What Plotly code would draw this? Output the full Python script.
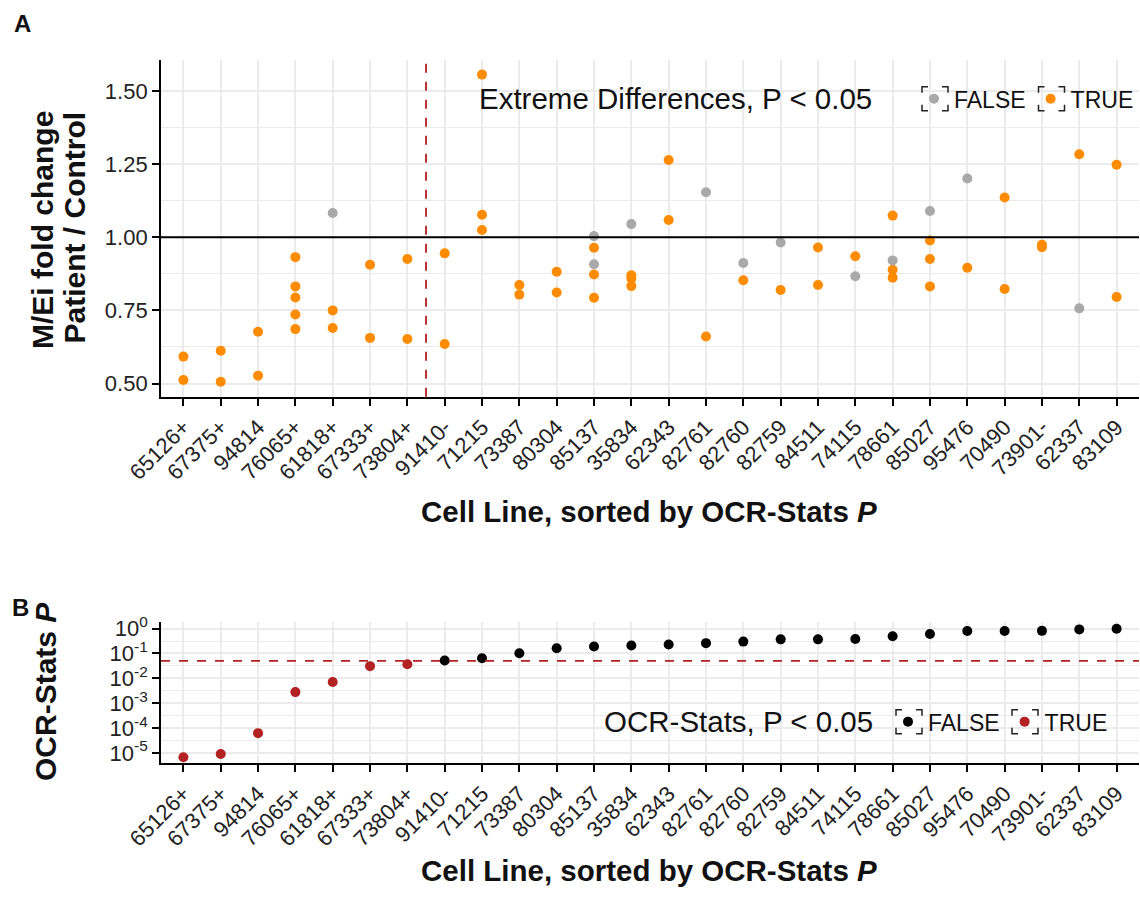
import plotly.graph_objects as go

# ---------------- data ----------------
cell_lines = ["65126+", "67375+", "94814", "76065+", "61818+", "67333+", "73804+",
              "91410-", "71215", "73387", "80304", "85137", "35834", "62343",
              "82761", "82760", "82759", "84511", "74115", "78661", "85027",
              "95476", "70490", "73901-", "62337", "83109"]

# Panel A: M/Ei fold change (patient / control), one entry per point
fc_cell = ["65126+", "65126+",
           "67375+", "67375+",
           "94814", "94814",
           "76065+", "76065+", "76065+", "76065+", "76065+",
           "61818+", "61818+", "61818+",
           "67333+", "67333+",
           "73804+", "73804+",
           "91410-", "91410-",
           "71215", "71215", "71215",
           "73387", "73387",
           "80304", "80304",
           "85137", "85137", "85137", "85137", "85137",
           "35834", "35834", "35834", "35834",
           "62343", "62343",
           "82761", "82761",
           "82760", "82760",
           "82759", "82759",
           "84511", "84511",
           "74115", "74115",
           "78661", "78661", "78661", "78661",
           "85027", "85027", "85027", "85027",
           "95476", "95476",
           "70490", "70490",
           "73901-", "73901-",
           "62337", "62337",
           "83109", "83109"]
fc_value = [0.592, 0.512,
            0.612, 0.506,
            0.677, 0.527,
            0.932, 0.832, 0.794, 0.736, 0.686,
            1.083, 0.750, 0.690,
            0.906, 0.656,
            0.926, 0.652,
            0.945, 0.635,
            1.556, 1.077, 1.025,
            0.837, 0.804,
            0.882, 0.811,
            1.004, 0.964, 0.908, 0.873, 0.793,
            1.045, 0.870, 0.859, 0.833,
            1.264, 1.059,
            1.154, 0.661,
            0.912, 0.853,
            0.982, 0.820,
            0.965, 0.837,
            0.935, 0.867,
            1.074, 0.921, 0.889, 0.862,
            1.090, 0.989, 0.926, 0.832,
            1.201, 0.896,
            1.136, 0.823,
            0.974, 0.966,
            1.284, 0.757,
            1.248, 0.796]
fc_extreme = [True, True,
              True, True,
              True, True,
              True, True, True, True, True,
              False, True, True,
              True, True,
              True, True,
              True, True,
              True, True, True,
              True, True,
              True, True,
              False, True, False, True, True,
              False, True, True, True,
              True, True,
              False, True,
              False, True,
              False, True,
              True, True,
              True, False,
              True, False, True, True,
              False, True, True, True,
              False, True,
              True, True,
              True, True,
              True, False,
              True, True]

# Panel B: OCR-Stats P per cell line
ocr_p = [6.8e-6, 9.2e-6, 6.3e-5, 2.8e-3, 7.2e-3, 0.031, 0.037, 0.052, 0.064,
         0.102, 0.162, 0.19, 0.21, 0.23, 0.26, 0.30, 0.37, 0.37, 0.38, 0.49,
         0.61, 0.80, 0.80, 0.81, 0.93, 0.99]
p_threshold = 0.05

y_ticks_a = [0.50, 0.75, 1.00, 1.25, 1.50]
y_ticks_b = [1e-5, 1e-4, 1e-3, 1e-2, 1e-1, 1e0]
y_ticktext_b = ["10<sup>-5</sup>", "10<sup>-4</sup>", "10<sup>-3</sup>",
                "10<sup>-2</sup>", "10<sup>-1</sup>", "10<sup>0</sup>"]
y_minor_b = [10 ** (k + 0.5) for k in range(-5, 0)]

# ---------------- styling ----------------
W, H = 1140, 898
FONT = "Liberation Sans, Arial, Helvetica, sans-serif"
ORANGE = "#FF8C00"
GRAY = "#A9A9A9"
RED = "#B22222"
GRID = "#EBEBEB"


def px(x):
    return x / W


def py(y):
    return 1 - y / H


fig = go.Figure()

# Panel A traces
tx = [c for c, e in zip(fc_cell, fc_extreme) if e]
ty = [v for v, e in zip(fc_value, fc_extreme) if e]
fx = [c for c, e in zip(fc_cell, fc_extreme) if not e]
fy = [v for v, e in zip(fc_value, fc_extreme) if not e]
fig.add_trace(go.Scatter(x=tx, y=ty, mode="markers", name="TRUE",
                         marker=dict(color=ORANGE, size=10, line=dict(width=0)),
                         xaxis="x", yaxis="y", legend="legend", legendrank=2))
fig.add_trace(go.Scatter(x=fx, y=fy, mode="markers", name="FALSE",
                         marker=dict(color=GRAY, size=10, line=dict(width=0)),
                         xaxis="x", yaxis="y", legend="legend", legendrank=1))

# Panel B traces
sig = [p < p_threshold for p in ocr_p]
fig.add_trace(go.Scatter(x=[c for c, s in zip(cell_lines, sig) if not s],
                         y=[p for p, s in zip(ocr_p, sig) if not s],
                         mode="markers", name="FALSE",
                         marker=dict(color="black", size=10, line=dict(width=0)),
                         xaxis="x2", yaxis="y2", legend="legend2", legendrank=1))
fig.add_trace(go.Scatter(x=[c for c, s in zip(cell_lines, sig) if s],
                         y=[p for p, s in zip(ocr_p, sig) if s],
                         mode="markers", name="TRUE",
                         marker=dict(color=RED, size=10, line=dict(width=0)),
                         xaxis="x2", yaxis="y2", legend="legend2", legendrank=2))

n = len(cell_lines)
xdom = [px(161), px(1139)]
common_x = dict(type="category", categoryorder="array", categoryarray=cell_lines,
                range=[-0.6, n - 1 + 0.6], showgrid=True, gridcolor=GRID, gridwidth=1.5,
                showline=True, linecolor="black", linewidth=1.8, ticks="outside",
                ticklen=7, tickwidth=1.8, tickcolor="black", tickangle=-45,
                tickfont=dict(family=FONT, size=22, color="#222"),
                zeroline=False, automargin=False, domain=xdom)
legend_common = dict(orientation="h", xanchor="left", yanchor="middle",
                     bgcolor="rgba(0,0,0,0)", borderwidth=0,
                     font=dict(family=FONT, size=23, color="#111"))
fig.update_layout(
    xaxis=dict(anchor="y", **common_x),
    xaxis2=dict(anchor="y2", **common_x),
    yaxis=dict(anchor="x", domain=[py(396.7), py(59.7)], range=[0.455, 1.607],
               tickvals=y_ticks_a, ticktext=[f"{v:.2f}" for v in y_ticks_a],
               showgrid=True, gridcolor=GRID, gridwidth=1.5,
               minor=dict(dtick=0.125, tick0=0.5, showgrid=True, gridcolor=GRID, gridwidth=1),
               showline=True, linecolor="black", linewidth=1.8, ticks="outside",
               ticklen=7, tickwidth=1.8, tickcolor="black",
               tickfont=dict(family=FONT, size=22, color="#222"),
               zeroline=False, automargin=False),
    yaxis2=dict(anchor="x2", type="log", domain=[py(763.3), py(622)],
                range=[-5.413, 0.265], tickvals=y_ticks_b, ticktext=y_ticktext_b,
                showgrid=True, gridcolor=GRID, gridwidth=1.5,
                minor=dict(tickmode="array", tickvals=y_minor_b, showgrid=True,
                           gridcolor=GRID, gridwidth=1),
                showline=True, linecolor="black", linewidth=1.8, ticks="outside",
                ticklen=7, tickwidth=1.8, tickcolor="black",
                tickfont=dict(family=FONT, size=22, color="#222"),
                zeroline=False, automargin=False),
    width=W, height=H, margin=dict(l=0, r=0, t=0, b=0),
    paper_bgcolor="white", plot_bgcolor="white",
    font=dict(family=FONT, color="black"),
    showlegend=True,
    legend=dict(x=px(914), y=py(98.8), **legend_common),
    legend2=dict(x=px(888), y=py(721.7), **legend_common),
)

# reference lines
n_sig = sum(sig)
fig.add_shape(type="line", xref="x", yref="y domain", x0=n_sig - 0.5, x1=n_sig - 0.5,
              y0=0, y1=1, line=dict(color=RED, width=1.8, dash="dash"))
fig.add_shape(type="line", xref="x domain", yref="y", x0=0, x1=1, y0=1.0, y1=1.0,
              line=dict(color="black", width=1.8))
fig.add_shape(type="line", xref="x2 domain", yref="y2", x0=0, x1=1,
              y0=p_threshold, y1=p_threshold, line=dict(color=RED, width=1.8, dash="dash"))

# legend backgrounds (hide gridlines) and dashed key boxes
for (x0, x1, y0, y1) in [(470, 1137, 82, 116), (596, 1112, 705, 739)]:
    fig.add_shape(type="rect", xref="paper", yref="paper", x0=px(x0), x1=px(x1),
                  y0=py(y1), y1=py(y0), fillcolor="white", line=dict(width=0),
                  layer="between")
KEY_W, KEY_H = 26, 24
key_dash = "6px,14px,12px,12px,12px,14px,12px,12px,6px"
for (cx, cy) in [(935, 98.8), (1051.5, 98.8), (909, 721.7), (1025, 721.7)]:
    fig.add_shape(type="rect", xref="paper", yref="paper",
                  x0=px(cx - KEY_W / 2), x1=px(cx + KEY_W / 2),
                  y0=py(cy - KEY_H / 2), y1=py(cy + KEY_H / 2),
                  line=dict(color="#222", width=1.5, dash=key_dash),
                  fillcolor="rgba(0,0,0,0)", layer="above")

# titles, legend titles and panel labels
ann = [
    dict(text="<b>A</b>", x=22, y=24, size=24, angle=0, xa="center"),
    dict(text="<b>B</b>", x=21, y=607, size=24, angle=0, xa="center"),
    dict(text="<b>Cell Line, sorted by OCR-Stats <i>P</i></b>", x=649, y=511, size=29.5, angle=0, xa="center"),
    dict(text="<b>Cell Line, sorted by OCR-Stats <i>P</i></b>", x=649, y=870, size=29.5, angle=0, xa="center"),
    dict(text="<b>M/Ei fold change</b>", x=42, y=230, size=30, angle=-90, xa="center"),
    dict(text="<b>Patient / Control</b>", x=74.5, y=228, size=30, angle=-90, xa="center"),
    dict(text="<b>OCR-Stats <i>P</i></b>", x=45, y=692, size=30, angle=-90, xa="center"),
    dict(text="Extreme Differences, P < 0.05", x=477, y=98.5, size=29.5, angle=0, xa="left"),
    dict(text="OCR-Stats, P < 0.05", x=602, y=721.5, size=29.5, angle=0, xa="left"),
]
for a in ann:
    fig.add_annotation(text=a["text"], x=px(a["x"]), y=py(a["y"]), xref="paper", yref="paper",
                       xanchor=a["xa"], yanchor="middle", showarrow=False,
                       textangle=a["angle"], font=dict(family=FONT, size=a["size"], color="#111"))

fig.write_html("out.html")
